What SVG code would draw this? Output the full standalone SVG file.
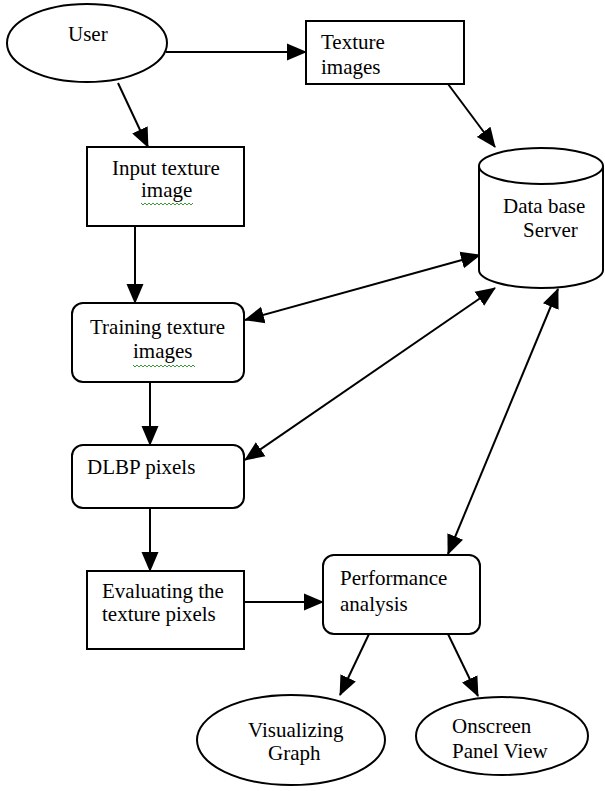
<svg xmlns="http://www.w3.org/2000/svg" width="605" height="791" viewBox="0 0 605 791">
<defs>
<style>
.s{fill:#fff;stroke:#000;stroke-width:2}
.t{font-family:"Liberation Serif","Times New Roman",serif;font-size:21px;fill:#000}
.c{stroke:#000;stroke-width:2;fill:none}
.sq{stroke:#3a9a3a;stroke-width:1;fill:none}
</style>
<marker id="ah" markerUnits="userSpaceOnUse" markerWidth="20" markerHeight="18" refX="19" refY="8.5" orient="auto-start-reverse" viewBox="0 0 20 17">
<path d="M0,0 L20,8.5 L0,17 z" fill="#000"/>
</marker>
</defs>
<rect width="605" height="791" fill="#fff"/>
<g id="connectors">
<line class="c" x1="166" y1="52" x2="306" y2="52" marker-end="url(#ah)"/>
<line class="c" x1="118" y1="83" x2="148" y2="147" marker-end="url(#ah)"/>
<line class="c" x1="448" y1="84" x2="495" y2="147" marker-end="url(#ah)"/>
<line class="c" x1="135" y1="226" x2="135" y2="303" marker-end="url(#ah)"/>
<line class="c" x1="245" y1="320" x2="480" y2="255" marker-start="url(#ah)" marker-end="url(#ah)"/>
<line class="c" x1="150" y1="382" x2="150" y2="445" marker-end="url(#ah)"/>
<line class="c" x1="245" y1="460" x2="495" y2="288" marker-start="url(#ah)" marker-end="url(#ah)"/>
<line class="c" x1="150" y1="508" x2="150" y2="571" marker-end="url(#ah)"/>
<line class="c" x1="245" y1="602" x2="323" y2="602" marker-end="url(#ah)"/>
<line class="c" x1="448" y1="554" x2="558" y2="289" marker-start="url(#ah)" marker-end="url(#ah)"/>
<line class="c" x1="369" y1="634" x2="340" y2="695" marker-end="url(#ah)"/>
<line class="c" x1="448" y1="634" x2="478" y2="696" marker-end="url(#ah)"/>
</g>
<g id="user">
<ellipse class="s" cx="87" cy="43" rx="80" ry="39"/>
<text class="t" x="68" y="41">User</text>
</g>
<g id="texture-images">
<rect class="s" x="306" y="21" width="158" height="63"/>
<text class="t" x="321" y="49">Texture</text>
<text class="t" x="321" y="74">images</text>
</g>
<g id="database">
<path class="s" d="M479,166 L479,270 A62,18 0 0 0 603,270 L603,166"/>
<ellipse class="s" cx="541" cy="166" rx="62" ry="18"/>
<text class="t" x="503" y="213">Data base</text>
<text class="t" x="523" y="237">Server</text>
</g>
<g id="input-texture">
<rect class="s" x="87" y="147" width="157" height="79"/>
<text class="t" x="112" y="175">Input texture</text>
<text class="t" x="141" y="197">image</text>
<path class="sq" d="M141,203 l2,2 l2,-2 l2,2 l2,-2 l2,2 l2,-2 l2,2 l2,-2 l2,2 l2,-2 l2,2 l2,-2 l2,2 l2,-2 l2,2 l2,-2 l2,2 l2,-2 l2,2 l2,-2 l2,2 l2,-2 l2,2 l2,-2 l2,2 l2,-2"/>
</g>
<g id="training">
<rect class="s" x="72" y="303" width="172" height="79" rx="11"/>
<text class="t" x="90" y="334">Training texture</text>
<text class="t" x="133" y="358">images</text>
<path class="sq" d="M133,365 l2,2 l2,-2 l2,2 l2,-2 l2,2 l2,-2 l2,2 l2,-2 l2,2 l2,-2 l2,2 l2,-2 l2,2 l2,-2 l2,2 l2,-2 l2,2 l2,-2 l2,2 l2,-2 l2,2 l2,-2 l2,2 l2,-2 l2,2 l2,-2 l2,2 l2,-2 l2,2 l2,-2 l2,2"/>
</g>
<g id="dlbp">
<rect class="s" x="72" y="445" width="172" height="63" rx="11"/>
<text class="t" x="87" y="474">DLBP pixels</text>
</g>
<g id="evaluating">
<rect class="s" x="87" y="571" width="157" height="78"/>
<text class="t" x="102" y="598">Evaluating the</text>
<text class="t" x="102" y="621">texture pixels</text>
</g>
<g id="performance">
<rect class="s" x="323" y="555" width="157" height="79" rx="11"/>
<text class="t" x="340" y="585">Performance</text>
<text class="t" x="340" y="611">analysis</text>
</g>
<g id="visualizing">
<ellipse class="s" cx="291" cy="740" rx="94" ry="45"/>
<text class="t" x="248" y="737">Visualizing</text>
<text class="t" x="268" y="760">Graph</text>
</g>
<g id="onscreen">
<ellipse class="s" cx="502" cy="736" rx="86" ry="39"/>
<text class="t" x="452" y="733">Onscreen</text>
<text class="t" x="452" y="758">Panel View</text>
</g>
</svg>
